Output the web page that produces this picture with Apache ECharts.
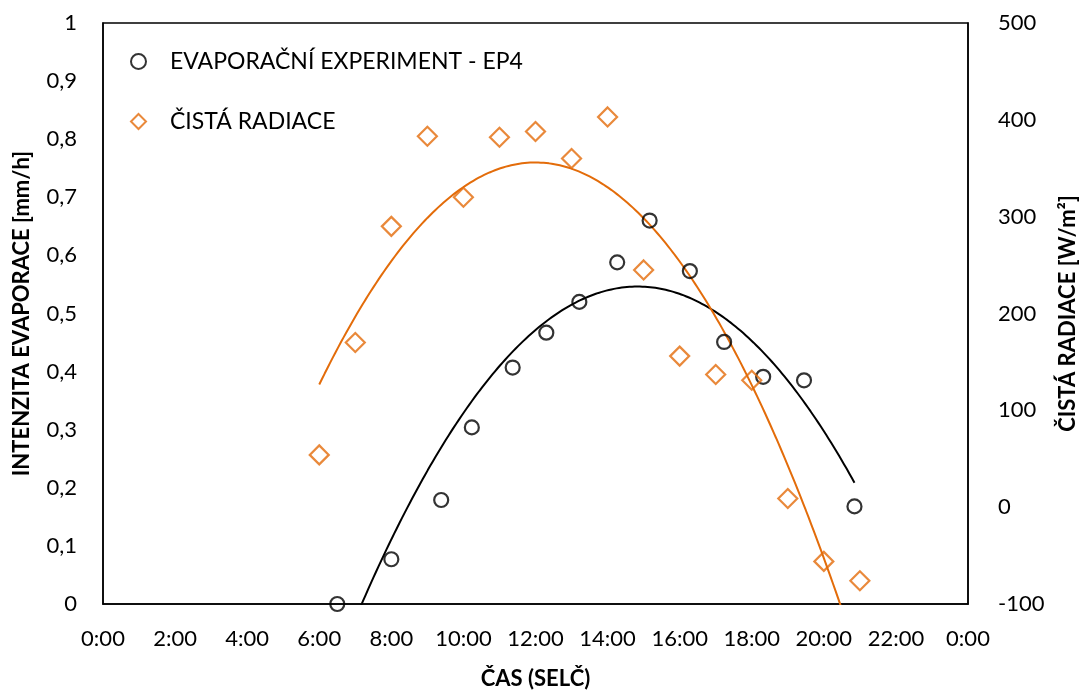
<!DOCTYPE html>
<html>
<head>
<meta charset="utf-8">
<script src="https://cdn.jsdelivr.net/npm/echarts@6/dist/echarts.min.js"></script>
<style>
  html, body { margin: 0; padding: 0; background: #fff; }
  #chart { width: 1087px; height: 695px; }
</style>
</head>
<body>
<div id="chart"></div>
<script>
// odečtené hodnoty z grafu
const evapTimes = ['6:30', '8:00', '9:23', '10:14', '11:22', '12:18', '13:13', '14:16', '15:10', '16:17', '17:14', '18:19', '19:27', '20:51'];
const evapValues = [0, 0.077, 0.179, 0.304, 0.407, 0.467, 0.52, 0.588, 0.66, 0.573, 0.451, 0.391, 0.385, 0.168];

const radTimes = ['6:00', '7:00', '8:00', '9:00', '10:00', '11:00', '12:00', '13:00', '14:00', '15:00', '16:00', '17:00', '18:00', '19:00', '20:00', '21:00'];
const radValues = [54, 170, 290, 383, 320, 382, 388, 360, 403, 245, 156, 137, 131, 9, -56, -76];

const BLACK = '#000000';
const ORANGE = '#E36C0A';
const FONT = 'Lato';

const toHours = s => { const [h, m] = s.split(':').map(Number); return h + m / 60; };

// polynomický trend 2. řádu (jako v Excelu)
function polyFit2(xs, ys) {
  let s = [0, 0, 0, 0, 0], t = [0, 0, 0];
  xs.forEach((x, i) => {
    for (let k = 0; k < 5; k++) s[k] += Math.pow(x, k);
    for (let k = 0; k < 3; k++) t[k] += ys[i] * Math.pow(x, k);
  });
  const A = [[s[0], s[1], s[2], t[0]], [s[1], s[2], s[3], t[1]], [s[2], s[3], s[4], t[2]]];
  for (let i = 0; i < 3; i++) {
    for (let j = i + 1; j < 3; j++) {
      const f = A[j][i] / A[i][i];
      for (let k = i; k < 4; k++) A[j][k] -= f * A[i][k];
    }
  }
  const c = [0, 0, 0];
  for (let i = 2; i >= 0; i--) {
    let v = A[i][3];
    for (let k = i + 1; k < 3; k++) v -= A[i][k] * c[k];
    c[i] = v / A[i][i];
  }
  return c;
}

function trend(xs, ys) {
  const c = polyFit2(xs, ys);
  const x0 = Math.min(...xs), x1 = Math.max(...xs);
  const out = [];
  for (let i = 0; i <= 200; i++) {
    const x = x0 + (x1 - x0) * i / 200;
    out.push([x, c[0] + c[1] * x + c[2] * x * x]);
  }
  return out;
}

const evapX = evapTimes.map(toHours);
const radX = radTimes.map(toHours);
const evapPts = evapX.map((x, i) => [x, evapValues[i]]);
const radPts = radX.map((x, i) => [x, radValues[i]]);

const chart = echarts.init(document.getElementById('chart'));
const labelStyle = { color: '#000', fontFamily: FONT, fontSize: 22 };
const nameStyle = { color: '#000', fontFamily: FONT, fontSize: 22, fontWeight: 'bold' };

chart.setOption({
  animation: false,
  grid: { left: 103, right: 114, top: 23, bottom: 87, show: true, borderColor: '#000', borderWidth: 1.5 },
  legend: {
    orient: 'vertical',
    left: 125,
    top: 45,
    itemWidth: 15,
    itemHeight: 15,
    itemGap: 37,
    data: ['EVAPORAČNÍ EXPERIMENT - EP4', 'ČISTÁ RADIACE'],
    textStyle: { color: '#000', fontFamily: FONT, fontSize: 23, lineHeight: 23, padding: [0, 0, 0, 19] },
  },
  xAxis: {
    type: 'value',
    min: 0,
    max: 24,
    interval: 2,
    name: 'ČAS (SELČ)',
    nameLocation: 'middle',
    nameGap: 64,
    nameTextStyle: nameStyle,
    axisLine: { lineStyle: { color: '#000', width: 1.5 } },
    axisTick: { show: false },
    splitLine: { show: false },
    axisLabel: { ...labelStyle, margin: 24, formatter: v => (v % 24) + ':00' },
  },
  yAxis: [
    {
      type: 'value',
      min: 0,
      max: 1,
      interval: 0.1,
      name: 'INTENZITA EVAPORACE [mm/h]',
      nameLocation: 'middle',
      nameGap: 70,
      nameTextStyle: nameStyle,
      axisLine: { show: true, lineStyle: { color: '#000', width: 1.5 } },
      axisTick: { show: false },
      splitLine: { show: false },
      axisLabel: { ...labelStyle, margin: 26, formatter: v => String(Math.round(v * 10) / 10).replace('.', ',') },
    },
    {
      type: 'value',
      min: -100,
      max: 500,
      interval: 100,
      name: 'ČISTÁ RADIACE [W/m²]',
      nameLocation: 'middle',
      nameGap: 89,
      nameTextStyle: nameStyle,
      axisLine: { show: true, lineStyle: { color: '#000', width: 1.5 } },
      axisTick: { show: false },
      splitLine: { show: false },
      axisLabel: { ...labelStyle, margin: 30 },
    },
  ],
  series: [
    {
      name: 'EVAPORAČNÍ EXPERIMENT - EP4 trend',
      type: 'line',
      yAxisIndex: 0,
      data: trend(evapX, evapValues),
      showSymbol: false,
      lineStyle: { color: BLACK, width: 2 },
      silent: true,
      z: 1,
    },
    {
      name: 'ČISTÁ RADIACE trend',
      type: 'line',
      yAxisIndex: 1,
      data: trend(radX, radValues),
      showSymbol: false,
      lineStyle: { color: ORANGE, width: 2 },
      silent: true,
      z: 1,
    },
    {
      name: 'EVAPORAČNÍ EXPERIMENT - EP4',
      type: 'scatter',
      yAxisIndex: 0,
      data: evapPts,
      symbol: 'circle',
      symbolSize: 14,
      itemStyle: { color: 'rgba(255,255,255,0)', borderColor: BLACK, borderWidth: 2.2 },
      clip: false,
      z: 3,
    },
    {
      name: 'ČISTÁ RADIACE',
      type: 'scatter',
      yAxisIndex: 1,
      data: radPts,
      symbol: 'diamond',
      symbolSize: 19,
      itemStyle: { color: 'rgba(255,255,255,0)', borderColor: ORANGE, borderWidth: 2.2 },
      clip: false,
      z: 3,
    },
  ],
});
</script>
</body>
</html>
